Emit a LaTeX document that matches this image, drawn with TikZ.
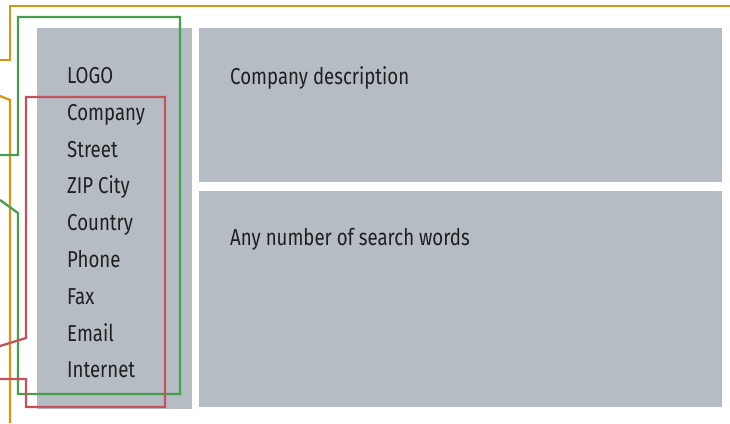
\documentclass[tikz,border=0pt]{standalone}
\usepackage{fontspec}
\setmainfont{Fira Sans}[FakeStretch=0.81]
\definecolor{panel}{RGB}{182,188,196}
\definecolor{lorange}{RGB}{214,150,18}
\definecolor{lgreen}{RGB}{72,158,78}
\definecolor{lred}{RGB}{196,82,92}
\begin{document}
\begin{tikzpicture}[x=1pt,y=-1pt,
  panelbox/.style={fill=panel,draw=none},
  lbl/.style={anchor=base west,inner sep=0pt,font=\fontsize{23}{23}\selectfont,text=black!88},
  frame/.style={line width=2.3pt,line join=miter}]
\useasboundingbox (0,0) rectangle (730,423);
\fill[white] (0,0) rectangle (730,423);
% panels
\path[panelbox] (37,28) rectangle (192,409);
\node[panelbox,minimum width=523pt,minimum height=154pt,anchor=north west,inner sep=0pt] (desc) at (199,28) {};
\node[panelbox,minimum width=523pt,minimum height=216pt,anchor=north west,inner sep=0pt] (words) at (199,191) {};
% orange
\draw[frame,lorange] (0,60) -- (10,60) -- (10,6) -- (730,6);
\draw[frame,lorange] (0,96) -- (10,100) -- (10,423);
% green
\draw[frame,lgreen] (0,155) -- (18,155) -- (18,17) -- (180,17) -- (180,394) -- (18,394) -- (18,213) -- (0,200);
% red
\draw[frame,lred] (0,346) -- (26,338) -- (26,97) -- (165,97) -- (165,407) -- (26,407) -- (26,379) -- (0,379);
% texts
\node[lbl] (logo) at (67,83.5) {LOGO};
\node[lbl] (company) at (67,120.3) {Company};
\node[lbl] (street) at (67,157.1) {Street};
\node[lbl] (zip) at (67,193.9) {ZIP City};
\node[lbl] (country) at (67,230.7) {Country};
\node[lbl] (phone) at (67,267.5) {Phone};
\node[lbl] (fax) at (67,304.3) {Fax};
\node[lbl] (email) at (67,341.1) {Email};
\node[lbl] (internet) at (67,377.9) {Internet};
\node[lbl] (desctext) at (230,84.3) {Company description};
\node[lbl] (wordstext) at (230,245.7) {Any number of search words};
\end{tikzpicture}
\end{document}
